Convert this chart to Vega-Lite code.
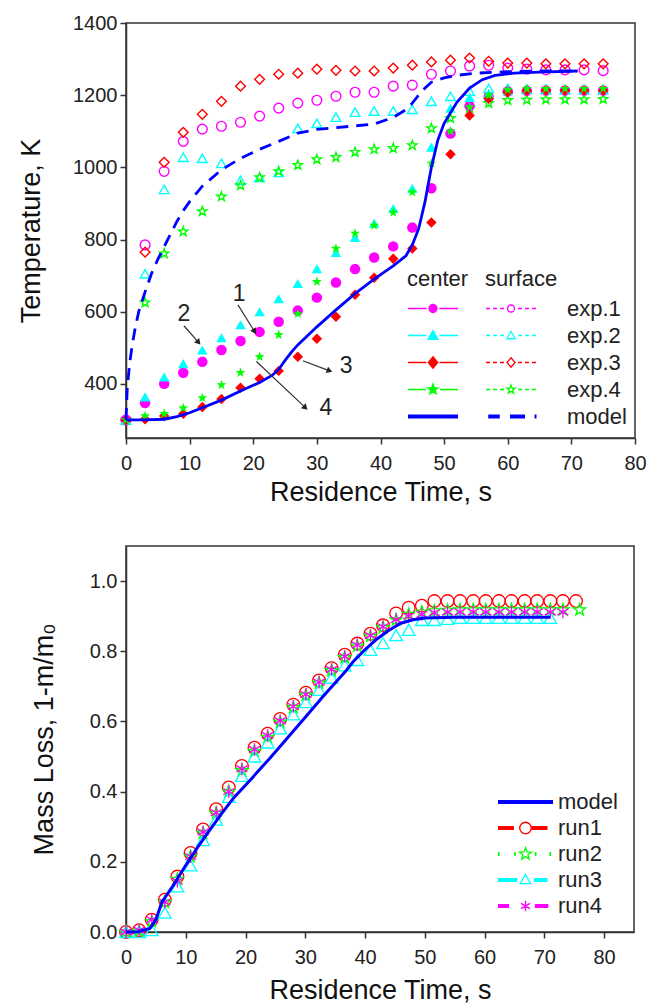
{
"$schema":"https://vega.github.io/schema/vega-lite/v6.json",
"padding":{"left":16,"top":12,"right":0,"bottom":0},
"spacing":39,
"config":{
 "font":"Liberation Sans",
 "view":{"stroke":"#333","strokeWidth":1.5},
 "axis":{"domainColor":"#333","domainWidth":1.5,"tickColor":"#333","tickWidth":1.5,"labelFont":"Liberation Sans","labelFontSize":20,"labelColor":"#222","titleFont":"Liberation Sans","titleFontSize":27,"titleFontWeight":"normal","titleColor":"#111","grid":false,"labelFlush":false,"labelOverlap":false},
 "legend":{"labelFont":"Liberation Sans","labelFontSize":22,"labelColor":"#222","titleFont":"Liberation Sans","titleFontSize":22,"titleFontWeight":"normal","titleColor":"#222","padding":0,"rowPadding":0,"symbolStrokeWidth":1.3}
},
"datasets":{
 "tdata":[
{"time":0,"kelvin":300,"series":"exp.1","loc":"center"},{"time":3,"kelvin":347,"series":"exp.1","loc":"center"},{"time":6,"kelvin":400,"series":"exp.1","loc":"center"},{"time":9,"kelvin":431,"series":"exp.1","loc":"center"},{"time":12,"kelvin":461,"series":"exp.1","loc":"center"},{"time":15,"kelvin":494,"series":"exp.1","loc":"center"},{"time":18,"kelvin":519,"series":"exp.1","loc":"center"},{"time":21,"kelvin":544,"series":"exp.1","loc":"center"},{"time":24,"kelvin":572,"series":"exp.1","loc":"center"},{"time":27,"kelvin":603,"series":"exp.1","loc":"center"},{"time":30,"kelvin":639,"series":"exp.1","loc":"center"},{"time":33,"kelvin":681,"series":"exp.1","loc":"center"},{"time":36,"kelvin":718,"series":"exp.1","loc":"center"},{"time":39,"kelvin":750,"series":"exp.1","loc":"center"},{"time":42,"kelvin":781,"series":"exp.1","loc":"center"},{"time":45,"kelvin":833,"series":"exp.1","loc":"center"},{"time":48,"kelvin":942,"series":"exp.1","loc":"center"},{"time":51,"kelvin":1094,"series":"exp.1","loc":"center"},{"time":54,"kelvin":1170,"series":"exp.1","loc":"center"},{"time":57,"kelvin":1195,"series":"exp.1","loc":"center"},{"time":60,"kelvin":1210,"series":"exp.1","loc":"center"},{"time":63,"kelvin":1212,"series":"exp.1","loc":"center"},{"time":66,"kelvin":1213,"series":"exp.1","loc":"center"},{"time":69,"kelvin":1213,"series":"exp.1","loc":"center"},{"time":72,"kelvin":1213,"series":"exp.1","loc":"center"},{"time":75,"kelvin":1213,"series":"exp.1","loc":"center"},
{"time":0,"kelvin":300,"series":"exp.2","loc":"center"},{"time":3,"kelvin":364,"series":"exp.2","loc":"center"},{"time":6,"kelvin":419,"series":"exp.2","loc":"center"},{"time":9,"kelvin":456,"series":"exp.2","loc":"center"},{"time":12,"kelvin":494,"series":"exp.2","loc":"center"},{"time":15,"kelvin":528,"series":"exp.2","loc":"center"},{"time":18,"kelvin":564,"series":"exp.2","loc":"center"},{"time":21,"kelvin":600,"series":"exp.2","loc":"center"},{"time":24,"kelvin":636,"series":"exp.2","loc":"center"},{"time":27,"kelvin":678,"series":"exp.2","loc":"center"},{"time":30,"kelvin":719,"series":"exp.2","loc":"center"},{"time":33,"kelvin":764,"series":"exp.2","loc":"center"},{"time":36,"kelvin":806,"series":"exp.2","loc":"center"},{"time":39,"kelvin":845,"series":"exp.2","loc":"center"},{"time":42,"kelvin":886,"series":"exp.2","loc":"center"},{"time":45,"kelvin":942,"series":"exp.2","loc":"center"},{"time":48,"kelvin":1056,"series":"exp.2","loc":"center"},{"time":51,"kelvin":1164,"series":"exp.2","loc":"center"},{"time":54,"kelvin":1194,"series":"exp.2","loc":"center"},{"time":57,"kelvin":1205,"series":"exp.2","loc":"center"},{"time":60,"kelvin":1212,"series":"exp.2","loc":"center"},{"time":63,"kelvin":1215,"series":"exp.2","loc":"center"},{"time":66,"kelvin":1215,"series":"exp.2","loc":"center"},{"time":69,"kelvin":1215,"series":"exp.2","loc":"center"},{"time":72,"kelvin":1215,"series":"exp.2","loc":"center"},{"time":75,"kelvin":1215,"series":"exp.2","loc":"center"},
{"time":0,"kelvin":300,"series":"exp.3","loc":"center"},{"time":3,"kelvin":302,"series":"exp.3","loc":"center"},{"time":6,"kelvin":311,"series":"exp.3","loc":"center"},{"time":9,"kelvin":317,"series":"exp.3","loc":"center"},{"time":12,"kelvin":336,"series":"exp.3","loc":"center"},{"time":15,"kelvin":358,"series":"exp.3","loc":"center"},{"time":18,"kelvin":389,"series":"exp.3","loc":"center"},{"time":21,"kelvin":414,"series":"exp.3","loc":"center"},{"time":24,"kelvin":436,"series":"exp.3","loc":"center"},{"time":27,"kelvin":475,"series":"exp.3","loc":"center"},{"time":30,"kelvin":525,"series":"exp.3","loc":"center"},{"time":33,"kelvin":586,"series":"exp.3","loc":"center"},{"time":36,"kelvin":647,"series":"exp.3","loc":"center"},{"time":39,"kelvin":694,"series":"exp.3","loc":"center"},{"time":42,"kelvin":747,"series":"exp.3","loc":"center"},{"time":45,"kelvin":775,"series":"exp.3","loc":"center"},{"time":48,"kelvin":847,"series":"exp.3","loc":"center"},{"time":51,"kelvin":1036,"series":"exp.3","loc":"center"},{"time":54,"kelvin":1144,"series":"exp.3","loc":"center"},{"time":57,"kelvin":1190,"series":"exp.3","loc":"center"},{"time":60,"kelvin":1208,"series":"exp.3","loc":"center"},{"time":63,"kelvin":1212,"series":"exp.3","loc":"center"},{"time":66,"kelvin":1213,"series":"exp.3","loc":"center"},{"time":69,"kelvin":1213,"series":"exp.3","loc":"center"},{"time":72,"kelvin":1213,"series":"exp.3","loc":"center"},{"time":75,"kelvin":1213,"series":"exp.3","loc":"center"},
{"time":0,"kelvin":300,"series":"exp.4","loc":"center"},{"time":3,"kelvin":311,"series":"exp.4","loc":"center"},{"time":6,"kelvin":317,"series":"exp.4","loc":"center"},{"time":9,"kelvin":333,"series":"exp.4","loc":"center"},{"time":12,"kelvin":361,"series":"exp.4","loc":"center"},{"time":15,"kelvin":397,"series":"exp.4","loc":"center"},{"time":18,"kelvin":431,"series":"exp.4","loc":"center"},{"time":21,"kelvin":475,"series":"exp.4","loc":"center"},{"time":24,"kelvin":536,"series":"exp.4","loc":"center"},{"time":27,"kelvin":594,"series":"exp.4","loc":"center"},{"time":30,"kelvin":683,"series":"exp.4","loc":"center"},{"time":33,"kelvin":775,"series":"exp.4","loc":"center"},{"time":36,"kelvin":817,"series":"exp.4","loc":"center"},{"time":39,"kelvin":839,"series":"exp.4","loc":"center"},{"time":42,"kelvin":875,"series":"exp.4","loc":"center"},{"time":45,"kelvin":931,"series":"exp.4","loc":"center"},{"time":48,"kelvin":1011,"series":"exp.4","loc":"center"},{"time":51,"kelvin":1100,"series":"exp.4","loc":"center"},{"time":54,"kelvin":1167,"series":"exp.4","loc":"center"},{"time":57,"kelvin":1200,"series":"exp.4","loc":"center"},{"time":60,"kelvin":1215,"series":"exp.4","loc":"center"},{"time":63,"kelvin":1218,"series":"exp.4","loc":"center"},{"time":66,"kelvin":1218,"series":"exp.4","loc":"center"},{"time":69,"kelvin":1218,"series":"exp.4","loc":"center"},{"time":72,"kelvin":1218,"series":"exp.4","loc":"center"},{"time":75,"kelvin":1218,"series":"exp.4","loc":"center"},
{"time":0,"kelvin":300,"series":"exp.1","loc":"surface"},{"time":3,"kelvin":785,"series":"exp.1","loc":"surface"},{"time":6,"kelvin":989,"series":"exp.1","loc":"surface"},{"time":9,"kelvin":1072,"series":"exp.1","loc":"surface"},{"time":12,"kelvin":1106,"series":"exp.1","loc":"surface"},{"time":15,"kelvin":1114,"series":"exp.1","loc":"surface"},{"time":18,"kelvin":1125,"series":"exp.1","loc":"surface"},{"time":21,"kelvin":1142,"series":"exp.1","loc":"surface"},{"time":24,"kelvin":1164,"series":"exp.1","loc":"surface"},{"time":27,"kelvin":1178,"series":"exp.1","loc":"surface"},{"time":30,"kelvin":1186,"series":"exp.1","loc":"surface"},{"time":33,"kelvin":1197,"series":"exp.1","loc":"surface"},{"time":36,"kelvin":1208,"series":"exp.1","loc":"surface"},{"time":39,"kelvin":1208,"series":"exp.1","loc":"surface"},{"time":42,"kelvin":1225,"series":"exp.1","loc":"surface"},{"time":45,"kelvin":1228,"series":"exp.1","loc":"surface"},{"time":48,"kelvin":1258,"series":"exp.1","loc":"surface"},{"time":51,"kelvin":1267,"series":"exp.1","loc":"surface"},{"time":54,"kelvin":1281,"series":"exp.1","loc":"surface"},{"time":57,"kelvin":1283,"series":"exp.1","loc":"surface"},{"time":60,"kelvin":1275,"series":"exp.1","loc":"surface"},{"time":63,"kelvin":1272,"series":"exp.1","loc":"surface"},{"time":66,"kelvin":1270,"series":"exp.1","loc":"surface"},{"time":69,"kelvin":1270,"series":"exp.1","loc":"surface"},{"time":72,"kelvin":1270,"series":"exp.1","loc":"surface"},{"time":75,"kelvin":1268,"series":"exp.1","loc":"surface"},
{"time":0,"kelvin":300,"series":"exp.2","loc":"surface"},{"time":3,"kelvin":705,"series":"exp.2","loc":"surface"},{"time":6,"kelvin":939,"series":"exp.2","loc":"surface"},{"time":9,"kelvin":1028,"series":"exp.2","loc":"surface"},{"time":12,"kelvin":1025,"series":"exp.2","loc":"surface"},{"time":15,"kelvin":1011,"series":"exp.2","loc":"surface"},{"time":18,"kelvin":964,"series":"exp.2","loc":"surface"},{"time":21,"kelvin":972,"series":"exp.2","loc":"surface"},{"time":24,"kelvin":986,"series":"exp.2","loc":"surface"},{"time":27,"kelvin":1108,"series":"exp.2","loc":"surface"},{"time":30,"kelvin":1122,"series":"exp.2","loc":"surface"},{"time":33,"kelvin":1139,"series":"exp.2","loc":"surface"},{"time":36,"kelvin":1153,"series":"exp.2","loc":"surface"},{"time":39,"kelvin":1156,"series":"exp.2","loc":"surface"},{"time":42,"kelvin":1156,"series":"exp.2","loc":"surface"},{"time":45,"kelvin":1161,"series":"exp.2","loc":"surface"},{"time":48,"kelvin":1183,"series":"exp.2","loc":"surface"},{"time":51,"kelvin":1197,"series":"exp.2","loc":"surface"},{"time":54,"kelvin":1211,"series":"exp.2","loc":"surface"},{"time":57,"kelvin":1219,"series":"exp.2","loc":"surface"},{"time":60,"kelvin":1219,"series":"exp.2","loc":"surface"},{"time":63,"kelvin":1217,"series":"exp.2","loc":"surface"},{"time":66,"kelvin":1216,"series":"exp.2","loc":"surface"},{"time":69,"kelvin":1215,"series":"exp.2","loc":"surface"},{"time":72,"kelvin":1215,"series":"exp.2","loc":"surface"},{"time":75,"kelvin":1215,"series":"exp.2","loc":"surface"},
{"time":0,"kelvin":300,"series":"exp.3","loc":"surface"},{"time":3,"kelvin":765,"series":"exp.3","loc":"surface"},{"time":6,"kelvin":1014,"series":"exp.3","loc":"surface"},{"time":9,"kelvin":1097,"series":"exp.3","loc":"surface"},{"time":12,"kelvin":1147,"series":"exp.3","loc":"surface"},{"time":15,"kelvin":1183,"series":"exp.3","loc":"surface"},{"time":18,"kelvin":1225,"series":"exp.3","loc":"surface"},{"time":21,"kelvin":1244,"series":"exp.3","loc":"surface"},{"time":24,"kelvin":1258,"series":"exp.3","loc":"surface"},{"time":27,"kelvin":1261,"series":"exp.3","loc":"surface"},{"time":30,"kelvin":1272,"series":"exp.3","loc":"surface"},{"time":33,"kelvin":1269,"series":"exp.3","loc":"surface"},{"time":36,"kelvin":1267,"series":"exp.3","loc":"surface"},{"time":39,"kelvin":1267,"series":"exp.3","loc":"surface"},{"time":42,"kelvin":1275,"series":"exp.3","loc":"surface"},{"time":45,"kelvin":1283,"series":"exp.3","loc":"surface"},{"time":48,"kelvin":1292,"series":"exp.3","loc":"surface"},{"time":51,"kelvin":1297,"series":"exp.3","loc":"surface"},{"time":54,"kelvin":1303,"series":"exp.3","loc":"surface"},{"time":57,"kelvin":1294,"series":"exp.3","loc":"surface"},{"time":60,"kelvin":1289,"series":"exp.3","loc":"surface"},{"time":63,"kelvin":1289,"series":"exp.3","loc":"surface"},{"time":66,"kelvin":1287,"series":"exp.3","loc":"surface"},{"time":69,"kelvin":1287,"series":"exp.3","loc":"surface"},{"time":72,"kelvin":1287,"series":"exp.3","loc":"surface"},{"time":75,"kelvin":1287,"series":"exp.3","loc":"surface"},
{"time":0,"kelvin":300,"series":"exp.4","loc":"surface"},{"time":3,"kelvin":625,"series":"exp.4","loc":"surface"},{"time":6,"kelvin":761,"series":"exp.4","loc":"surface"},{"time":9,"kelvin":822,"series":"exp.4","loc":"surface"},{"time":12,"kelvin":878,"series":"exp.4","loc":"surface"},{"time":15,"kelvin":919,"series":"exp.4","loc":"surface"},{"time":18,"kelvin":950,"series":"exp.4","loc":"surface"},{"time":21,"kelvin":972,"series":"exp.4","loc":"surface"},{"time":24,"kelvin":989,"series":"exp.4","loc":"surface"},{"time":27,"kelvin":1006,"series":"exp.4","loc":"surface"},{"time":30,"kelvin":1022,"series":"exp.4","loc":"surface"},{"time":33,"kelvin":1028,"series":"exp.4","loc":"surface"},{"time":36,"kelvin":1042,"series":"exp.4","loc":"surface"},{"time":39,"kelvin":1050,"series":"exp.4","loc":"surface"},{"time":42,"kelvin":1053,"series":"exp.4","loc":"surface"},{"time":45,"kelvin":1061,"series":"exp.4","loc":"surface"},{"time":48,"kelvin":1108,"series":"exp.4","loc":"surface"},{"time":51,"kelvin":1136,"series":"exp.4","loc":"surface"},{"time":54,"kelvin":1164,"series":"exp.4","loc":"surface"},{"time":57,"kelvin":1178,"series":"exp.4","loc":"surface"},{"time":60,"kelvin":1186,"series":"exp.4","loc":"surface"},{"time":63,"kelvin":1187,"series":"exp.4","loc":"surface"},{"time":66,"kelvin":1188,"series":"exp.4","loc":"surface"},{"time":69,"kelvin":1188,"series":"exp.4","loc":"surface"},{"time":72,"kelvin":1188,"series":"exp.4","loc":"surface"},{"time":75,"kelvin":1189,"series":"exp.4","loc":"surface"},
{"time":0,"kelvin":300,"series":"model","loc":"center"},{"time":3,"kelvin":300,"series":"model","loc":"center"},{"time":6,"kelvin":302,"series":"model","loc":"center"},{"time":8,"kelvin":309,"series":"model","loc":"center"},{"time":10,"kelvin":320,"series":"model","loc":"center"},{"time":12,"kelvin":334,"series":"model","loc":"center"},{"time":15,"kelvin":355,"series":"model","loc":"center"},{"time":18,"kelvin":380,"series":"model","loc":"center"},{"time":21,"kelvin":404,"series":"model","loc":"center"},{"time":23,"kelvin":424,"series":"model","loc":"center"},{"time":24,"kelvin":440,"series":"model","loc":"center"},{"time":25,"kelvin":465,"series":"model","loc":"center"},{"time":26,"kelvin":488,"series":"model","loc":"center"},{"time":27,"kelvin":508,"series":"model","loc":"center"},{"time":30,"kelvin":558,"series":"model","loc":"center"},{"time":33,"kelvin":605,"series":"model","loc":"center"},{"time":36,"kelvin":650,"series":"model","loc":"center"},{"time":39,"kelvin":690,"series":"model","loc":"center"},{"time":42,"kelvin":727,"series":"model","loc":"center"},{"time":44,"kelvin":755,"series":"model","loc":"center"},{"time":45,"kelvin":785,"series":"model","loc":"center"},{"time":46,"kelvin":830,"series":"model","loc":"center"},{"time":47,"kelvin":905,"series":"model","loc":"center"},{"time":48,"kelvin":1000,"series":"model","loc":"center"},{"time":49,"kelvin":1075,"series":"model","loc":"center"},{"time":50,"kelvin":1122,"series":"model","loc":"center"},{"time":52,"kelvin":1180,"series":"model","loc":"center"},{"time":54,"kelvin":1220,"series":"model","loc":"center"},{"time":56,"kelvin":1243,"series":"model","loc":"center"},{"time":58,"kelvin":1255,"series":"model","loc":"center"},{"time":61,"kelvin":1261,"series":"model","loc":"center"},{"time":65,"kelvin":1264,"series":"model","loc":"center"},{"time":71,"kelvin":1267,"series":"model","loc":"center"},
{"time":0,"kelvin":300,"series":"model","loc":"surface"},{"time":0.2,"kelvin":390,"series":"model","loc":"surface"},{"time":0.6,"kelvin":460,"series":"model","loc":"surface"},{"time":1,"kelvin":510,"series":"model","loc":"surface"},{"time":1.5,"kelvin":560,"series":"model","loc":"surface"},{"time":2,"kelvin":600,"series":"model","loc":"surface"},{"time":3,"kelvin":655,"series":"model","loc":"surface"},{"time":4,"kelvin":705,"series":"model","loc":"surface"},{"time":5,"kelvin":745,"series":"model","loc":"surface"},{"time":6,"kelvin":780,"series":"model","loc":"surface"},{"time":7,"kelvin":815,"series":"model","loc":"surface"},{"time":8,"kelvin":850,"series":"model","loc":"surface"},{"time":9,"kelvin":880,"series":"model","loc":"surface"},{"time":10,"kelvin":905,"series":"model","loc":"surface"},{"time":12,"kelvin":948,"series":"model","loc":"surface"},{"time":15,"kelvin":993,"series":"model","loc":"surface"},{"time":18,"kelvin":1025,"series":"model","loc":"surface"},{"time":21,"kelvin":1050,"series":"model","loc":"surface"},{"time":24,"kelvin":1072,"series":"model","loc":"surface"},{"time":27,"kelvin":1095,"series":"model","loc":"surface"},{"time":30,"kelvin":1105,"series":"model","loc":"surface"},{"time":33,"kelvin":1110,"series":"model","loc":"surface"},{"time":36,"kelvin":1115,"series":"model","loc":"surface"},{"time":39,"kelvin":1120,"series":"model","loc":"surface"},{"time":42,"kelvin":1138,"series":"model","loc":"surface"},{"time":44,"kelvin":1160,"series":"model","loc":"surface"},{"time":45,"kelvin":1178,"series":"model","loc":"surface"},{"time":46,"kelvin":1200,"series":"model","loc":"surface"},{"time":47,"kelvin":1220,"series":"model","loc":"surface"},{"time":48,"kelvin":1236,"series":"model","loc":"surface"},{"time":50,"kelvin":1248,"series":"model","loc":"surface"},{"time":52,"kelvin":1255,"series":"model","loc":"surface"},{"time":55,"kelvin":1261,"series":"model","loc":"surface"},{"time":60,"kelvin":1265,"series":"model","loc":"surface"},{"time":65,"kelvin":1267,"series":"model","loc":"surface"},{"time":70,"kelvin":1267,"series":"model","loc":"surface"}
 ],
 "notes":[
{"n":1,"label":"1","tx":17.8,"tT":648,"ax":17.6,"aT":619,"bx":20.2,"bT":545},
{"n":2,"label":"2","tx":9.1,"tT":594,"ax":9.1,"aT":561,"bx":11.4,"bT":515},
{"n":3,"label":"3","tx":34.6,"tT":450,"ax":27.8,"aT":464,"bx":32.0,"bT":436},
{"n":4,"label":"4","tx":31.4,"tT":333,"ax":20.5,"aT":462,"bx":28.2,"bT":334}
 ],
 "mass":[
{"time":0,"ml":0,"series":"run1"},{"time":2.2,"ml":0.005,"series":"run1"},{"time":4.3,"ml":0.035,"series":"run1"},{"time":6.5,"ml":0.092,"series":"run1"},{"time":8.6,"ml":0.158,"series":"run1"},{"time":10.8,"ml":0.225,"series":"run1"},{"time":12.9,"ml":0.292,"series":"run1"},{"time":15.1,"ml":0.35,"series":"run1"},{"time":17.2,"ml":0.412,"series":"run1"},{"time":19.4,"ml":0.473,"series":"run1"},{"time":21.5,"ml":0.525,"series":"run1"},{"time":23.7,"ml":0.565,"series":"run1"},{"time":25.8,"ml":0.607,"series":"run1"},{"time":28.0,"ml":0.648,"series":"run1"},{"time":30.1,"ml":0.682,"series":"run1"},{"time":32.3,"ml":0.717,"series":"run1"},{"time":34.4,"ml":0.752,"series":"run1"},{"time":36.6,"ml":0.79,"series":"run1"},{"time":38.7,"ml":0.822,"series":"run1"},{"time":40.9,"ml":0.85,"series":"run1"},{"time":43.0,"ml":0.874,"series":"run1"},{"time":45.2,"ml":0.908,"series":"run1"},{"time":47.3,"ml":0.924,"series":"run1"},{"time":49.5,"ml":0.93,"series":"run1"},{"time":51.6,"ml":0.943,"series":"run1"},{"time":53.8,"ml":0.943,"series":"run1"},{"time":55.9,"ml":0.943,"series":"run1"},{"time":58.1,"ml":0.943,"series":"run1"},{"time":60.2,"ml":0.943,"series":"run1"},{"time":62.4,"ml":0.943,"series":"run1"},{"time":64.5,"ml":0.943,"series":"run1"},{"time":66.7,"ml":0.943,"series":"run1"},{"time":68.8,"ml":0.943,"series":"run1"},{"time":71.0,"ml":0.943,"series":"run1"},{"time":73.1,"ml":0.943,"series":"run1"},{"time":75.3,"ml":0.943,"series":"run1"},
{"time":0,"ml":0,"series":"run2"},{"time":2.2,"ml":0.003,"series":"run2"},{"time":4.3,"ml":0.03,"series":"run2"},{"time":6.5,"ml":0.085,"series":"run2"},{"time":8.6,"ml":0.15,"series":"run2"},{"time":10.8,"ml":0.215,"series":"run2"},{"time":12.9,"ml":0.282,"series":"run2"},{"time":15.1,"ml":0.338,"series":"run2"},{"time":17.2,"ml":0.4,"series":"run2"},{"time":19.4,"ml":0.46,"series":"run2"},{"time":21.5,"ml":0.515,"series":"run2"},{"time":23.7,"ml":0.555,"series":"run2"},{"time":25.8,"ml":0.598,"series":"run2"},{"time":28.0,"ml":0.64,"series":"run2"},{"time":30.1,"ml":0.675,"series":"run2"},{"time":32.3,"ml":0.71,"series":"run2"},{"time":34.4,"ml":0.745,"series":"run2"},{"time":36.6,"ml":0.782,"series":"run2"},{"time":38.7,"ml":0.815,"series":"run2"},{"time":40.9,"ml":0.843,"series":"run2"},{"time":43.0,"ml":0.868,"series":"run2"},{"time":45.2,"ml":0.89,"series":"run2"},{"time":47.3,"ml":0.905,"series":"run2"},{"time":49.5,"ml":0.912,"series":"run2"},{"time":51.6,"ml":0.915,"series":"run2"},{"time":53.8,"ml":0.917,"series":"run2"},{"time":55.9,"ml":0.918,"series":"run2"},{"time":58.1,"ml":0.918,"series":"run2"},{"time":60.2,"ml":0.918,"series":"run2"},{"time":62.4,"ml":0.918,"series":"run2"},{"time":64.5,"ml":0.918,"series":"run2"},{"time":66.7,"ml":0.918,"series":"run2"},{"time":68.8,"ml":0.918,"series":"run2"},{"time":71.0,"ml":0.918,"series":"run2"},{"time":73.1,"ml":0.918,"series":"run2"},{"time":75.9,"ml":0.918,"series":"run2"},
{"time":0,"ml":0,"series":"run3"},{"time":2.2,"ml":0,"series":"run3"},{"time":4.3,"ml":0.005,"series":"run3"},{"time":6.5,"ml":0.055,"series":"run3"},{"time":8.6,"ml":0.13,"series":"run3"},{"time":10.8,"ml":0.19,"series":"run3"},{"time":12.9,"ml":0.262,"series":"run3"},{"time":15.1,"ml":0.32,"series":"run3"},{"time":17.2,"ml":0.385,"series":"run3"},{"time":19.4,"ml":0.445,"series":"run3"},{"time":21.5,"ml":0.5,"series":"run3"},{"time":23.7,"ml":0.54,"series":"run3"},{"time":25.8,"ml":0.58,"series":"run3"},{"time":28.0,"ml":0.62,"series":"run3"},{"time":30.1,"ml":0.655,"series":"run3"},{"time":32.3,"ml":0.69,"series":"run3"},{"time":34.4,"ml":0.725,"series":"run3"},{"time":36.6,"ml":0.76,"series":"run3"},{"time":38.7,"ml":0.775,"series":"run3"},{"time":40.9,"ml":0.804,"series":"run3"},{"time":43.0,"ml":0.823,"series":"run3"},{"time":45.2,"ml":0.846,"series":"run3"},{"time":47.3,"ml":0.861,"series":"run3"},{"time":49.5,"ml":0.889,"series":"run3"},{"time":51.6,"ml":0.889,"series":"run3"},{"time":53.8,"ml":0.892,"series":"run3"},{"time":55.9,"ml":0.895,"series":"run3"},{"time":58.1,"ml":0.895,"series":"run3"},{"time":60.2,"ml":0.895,"series":"run3"},{"time":62.4,"ml":0.895,"series":"run3"},{"time":64.5,"ml":0.895,"series":"run3"},{"time":66.7,"ml":0.895,"series":"run3"},{"time":68.8,"ml":0.895,"series":"run3"},{"time":71.0,"ml":0.895,"series":"run3"},
{"time":0,"ml":0,"series":"run4"},{"time":2.2,"ml":0.005,"series":"run4"},{"time":4.3,"ml":0.035,"series":"run4"},{"time":6.5,"ml":0.085,"series":"run4"},{"time":8.6,"ml":0.145,"series":"run4"},{"time":10.8,"ml":0.215,"series":"run4"},{"time":12.9,"ml":0.285,"series":"run4"},{"time":15.1,"ml":0.34,"series":"run4"},{"time":17.2,"ml":0.4,"series":"run4"},{"time":19.4,"ml":0.465,"series":"run4"},{"time":21.5,"ml":0.52,"series":"run4"},{"time":23.7,"ml":0.56,"series":"run4"},{"time":25.8,"ml":0.602,"series":"run4"},{"time":28.0,"ml":0.643,"series":"run4"},{"time":30.1,"ml":0.677,"series":"run4"},{"time":32.3,"ml":0.712,"series":"run4"},{"time":34.4,"ml":0.748,"series":"run4"},{"time":36.6,"ml":0.785,"series":"run4"},{"time":38.7,"ml":0.818,"series":"run4"},{"time":40.9,"ml":0.845,"series":"run4"},{"time":43.0,"ml":0.87,"series":"run4"},{"time":45.2,"ml":0.89,"series":"run4"},{"time":47.3,"ml":0.9,"series":"run4"},{"time":49.5,"ml":0.905,"series":"run4"},{"time":51.6,"ml":0.91,"series":"run4"},{"time":53.8,"ml":0.912,"series":"run4"},{"time":55.9,"ml":0.912,"series":"run4"},{"time":58.1,"ml":0.912,"series":"run4"},{"time":60.2,"ml":0.912,"series":"run4"},{"time":62.4,"ml":0.912,"series":"run4"},{"time":64.5,"ml":0.912,"series":"run4"},{"time":66.7,"ml":0.912,"series":"run4"},{"time":68.8,"ml":0.912,"series":"run4"},{"time":71.0,"ml":0.912,"series":"run4"},{"time":73.1,"ml":0.912,"series":"run4"},
{"time":0,"ml":0,"series":"model"},{"time":2,"ml":0.001,"series":"model"},{"time":4,"ml":0.01,"series":"model"},{"time":5,"ml":0.035,"series":"model"},{"time":6,"ml":0.085,"series":"model"},{"time":8,"ml":0.135,"series":"model"},{"time":10,"ml":0.19,"series":"model"},{"time":12,"ml":0.242,"series":"model"},{"time":14,"ml":0.29,"series":"model"},{"time":16,"ml":0.337,"series":"model"},{"time":18,"ml":0.382,"series":"model"},{"time":21,"ml":0.437,"series":"model"},{"time":24,"ml":0.494,"series":"model"},{"time":27,"ml":0.553,"series":"model"},{"time":30,"ml":0.612,"series":"model"},{"time":33,"ml":0.672,"series":"model"},{"time":36.7,"ml":0.742,"series":"model"},{"time":38,"ml":0.77,"series":"model"},{"time":40,"ml":0.805,"series":"model"},{"time":42,"ml":0.835,"series":"model"},{"time":44,"ml":0.86,"series":"model"},{"time":46,"ml":0.88,"series":"model"},{"time":48,"ml":0.89,"series":"model"},{"time":50,"ml":0.895,"series":"model"},{"time":55,"ml":0.897,"series":"model"},{"time":60,"ml":0.897,"series":"model"},{"time":65,"ml":0.897,"series":"model"},{"time":71,"ml":0.897,"series":"model"}
 ]
},
"vconcat":[
{
 "width":509,"height":415,
 "resolve":{"scale":{"color":"independent","shape":"independent","stroke":"independent"}},
 "layer":[
  {"data":{"name":"tdata"},"transform":[{"filter":"datum.loc === 'surface' && datum.series !== 'model'"}],
   "mark":{"type":"point","filled":false,"strokeWidth":1.4,"opacity":1,"size":95},
   "encoding":{
    "x":{"field":"time","type":"quantitative","scale":{"domain":[0,80],"nice":false},
      "axis":{"title":"Residence Time, s","values":[0,5,10,15,20,25,30,35,40,45,50,55,60,65,70,75,80],"labelExpr":"datum.value % 10 === 0 ? datum.label : ''","tickSize":6,"labelPadding":9,"titlePadding":6}},
    "y":{"field":"kelvin","type":"quantitative","scale":{"domain":[250,1400],"nice":false,"zero":false},
      "axis":{"title":"Temperature, K","values":[400,600,800,1000,1200,1400],"format":".0f","tickSize":6,"labelPadding":3,"titlePadding":27}},
    "shape":{"field":"series","type":"nominal","scale":{"domain":["exp.1","exp.2","exp.3","exp.4"],"range":["circle","triangle-up","diamond","M0,-1L0.235,-0.324L0.951,-0.309L0.38,0.124L0.588,0.809L0,0.4L-0.588,0.809L-0.38,0.124L-0.951,-0.309L-0.235,-0.324Z"]},"legend":null},
    "color":{"field":"series","type":"nominal","scale":{"domain":["exp.1","exp.2","exp.3","exp.4"],"range":["#FF00FF","#00FFFF","#FF0000","#00FF00"]},"legend":null}
   }},
  {"data":{"name":"tdata"},"transform":[{"filter":"datum.loc === 'center' && datum.series !== 'model'"}],
   "mark":{"type":"point","filled":true,"opacity":1,"size":110},
   "encoding":{
    "x":{"field":"time","type":"quantitative"},
    "y":{"field":"kelvin","type":"quantitative"},
    "shape":{"field":"series","type":"nominal","scale":{"domain":["exp.1","exp.2","exp.3","exp.4"],"range":["circle","triangle-up","diamond","M0,-1L0.235,-0.324L0.951,-0.309L0.38,0.124L0.588,0.809L0,0.4L-0.588,0.809L-0.38,0.124L-0.951,-0.309L-0.235,-0.324Z"]},"legend":null},
    "color":{"field":"series","type":"nominal","scale":{"domain":["exp.1","exp.2","exp.3","exp.4"],"range":["#FF00FF","#00FFFF","#FF0000","#00FF00"]},"legend":null}
   }},
  {"data":{"name":"tdata"},"transform":[{"filter":"datum.loc === 'center' && datum.series === 'model'"}],
   "mark":{"type":"line","color":"#0000FF","strokeWidth":2.8},
   "encoding":{"x":{"field":"time","type":"quantitative"},"y":{"field":"kelvin","type":"quantitative"}}},
  {"data":{"name":"tdata"},"transform":[{"filter":"datum.loc === 'surface' && datum.series === 'model'"}],
   "mark":{"type":"line","color":"#0000FF","strokeWidth":2.8,"strokeDash":[12,8]},
   "encoding":{"x":{"field":"time","type":"quantitative"},"y":{"field":"kelvin","type":"quantitative"}}},
  {"data":{"name":"notes"},
   "mark":{"type":"rule","color":"#333","strokeWidth":1.2},
   "encoding":{"x":{"field":"ax","type":"quantitative"},"y":{"field":"aT","type":"quantitative"},"x2":{"field":"bx"},"y2":{"field":"bT"}}},
  {"data":{"name":"notes"},"transform":[{"filter":"datum.n === 1"}],
   "mark":{"type":"point","shape":"triangle-up","filled":true,"color":"#222","size":45,"opacity":1,"angle":148},
   "encoding":{"x":{"field":"bx","type":"quantitative"},"y":{"field":"bT","type":"quantitative"}}},
  {"data":{"name":"notes"},"transform":[{"filter":"datum.n === 2"}],
   "mark":{"type":"point","shape":"triangle-up","filled":true,"color":"#222","size":45,"opacity":1,"angle":139},
   "encoding":{"x":{"field":"bx","type":"quantitative"},"y":{"field":"bT","type":"quantitative"}}},
  {"data":{"name":"notes"},"transform":[{"filter":"datum.n === 3"}],
   "mark":{"type":"point","shape":"triangle-up","filled":true,"color":"#222","size":45,"opacity":1,"angle":110},
   "encoding":{"x":{"field":"bx","type":"quantitative"},"y":{"field":"bT","type":"quantitative"}}},
  {"data":{"name":"notes"},"transform":[{"filter":"datum.n === 4"}],
   "mark":{"type":"point","shape":"triangle-up","filled":true,"color":"#222","size":45,"opacity":1,"angle":133},
   "encoding":{"x":{"field":"bx","type":"quantitative"},"y":{"field":"bT","type":"quantitative"}}},
  {"data":{"name":"notes"},
   "mark":{"type":"text","fontSize":23,"color":"#222"},
   "encoding":{"x":{"field":"tx","type":"quantitative"},"y":{"field":"tT","type":"quantitative"},"text":{"field":"label"}}},
  {"data":{"name":"tdata"},"transform":[{"filter":"datum.loc === 'center'"}],
   "mark":{"type":"point","filled":false,"opacity":0,"size":2500,"strokeWidth":1.3},
   "encoding":{
    "x":{"field":"time","type":"quantitative"},
    "y":{"field":"kelvin","type":"quantitative"},
    "shape":{"field":"series","type":"nominal","scale":{"domain":["exp.1","exp.2","exp.3","exp.4","model"],"range":[
      "M-1,0H-0.25M0.25,0H1M-0.16,0A0.16,0.16 0 1,0 0.16,0A0.16,0.16 0 1,0 -0.16,0ZM-0.11,0A0.11,0.11 0 1,0 0.11,0A0.11,0.11 0 1,0 -0.11,0ZM-0.06,0A0.06,0.06 0 1,0 0.06,0A0.06,0.06 0 1,0 -0.06,0ZM-0.02,0A0.02,0.02 0 1,0 0.02,0A0.02,0.02 0 1,0 -0.02,0Z",
      "M-1,0H-0.26M0.26,0H1M0,-0.2L0.2,0.15L-0.2,0.15ZM0,-0.13L0.14,0.115L-0.14,0.115ZM0,-0.06L0.08,0.08L-0.08,0.08ZM0,0.01L0.02,0.045L-0.02,0.045Z",
      "M-1,0H-0.26M0.26,0H1M0,-0.23L0.19,0L0,0.23L-0.19,0ZM0,-0.16L0.133,0L0,0.16L-0.133,0ZM0,-0.092L0.076,0L0,0.092L-0.076,0ZM0,-0.03L0.025,0L0,0.03L-0.025,0Z",
      "M-1,0H-0.28M0.28,0H1M0,-0.22L0.053,-0.073L0.209,-0.068L0.086,0.028L0.129,0.178L0,0.09L-0.129,0.178L-0.086,0.028L-0.209,-0.068L-0.053,-0.073ZM0,-0.132L0.032,-0.044L0.125,-0.041L0.052,0.017L0.077,0.107L0,0.054L-0.077,0.107L-0.052,0.017L-0.125,-0.041L-0.032,-0.044ZM0,-0.055L0.013,-0.018L0.052,-0.017L0.022,0.007L0.032,0.045L0,0.023L-0.032,0.045L-0.022,0.007L-0.052,-0.017L-0.013,-0.018Z",
      "M-1,0H1M-1,-0.05H1M-1,0.05H1"]},
      "legend":{"title":"center","orient":"none","legendX":281,"legendY":246,"labelOpacity":0,"clipHeight":27,"symbolSize":2500,"titlePadding":4,"symbolStrokeWidth":1.3}},
    "stroke":{"field":"series","type":"nominal","scale":{"domain":["exp.1","exp.2","exp.3","exp.4","model"],"range":["#FF00FF","#00FFFF","#FF0000","#00FF00","#0000FF"]},
      "legend":{"title":"center","orient":"none","legendX":281,"legendY":246,"labelOpacity":0,"clipHeight":27,"symbolSize":2500,"titlePadding":4,"symbolStrokeWidth":1.3}}
   }},
  {"data":{"name":"tdata"},"transform":[{"filter":"datum.loc === 'surface'"}],
   "mark":{"type":"point","filled":false,"opacity":0,"size":2500,"strokeWidth":1.3},
   "encoding":{
    "x":{"field":"time","type":"quantitative"},
    "y":{"field":"kelvin","type":"quantitative"},
    "shape":{"field":"series","type":"nominal","scale":{"domain":["exp.1","exp.2","exp.3","exp.4","model"],"range":[
      "M-1,0H-0.84M-0.72,0H-0.56M-0.44,0H-0.28M0.28,0H0.44M0.56,0H0.72M0.84,0H1M-0.14,0A0.14,0.14 0 1,0 0.14,0A0.14,0.14 0 1,0 -0.14,0Z",
      "M-1,0H-0.84M-0.72,0H-0.56M-0.44,0H-0.28M0.28,0H0.44M0.56,0H0.72M0.84,0H1M0,-0.17L0.17,0.13L-0.17,0.13Z",
      "M-1,0H-0.84M-0.72,0H-0.56M-0.44,0H-0.28M0.28,0H0.44M0.56,0H0.72M0.84,0H1M0,-0.19L0.16,0L0,0.19L-0.16,0Z",
      "M-1,0H-0.84M-0.72,0H-0.56M-0.44,0H-0.28M0.28,0H0.44M0.56,0H0.72M0.84,0H1M0,-0.18L0.043,-0.06L0.171,-0.056L0.07,0.023L0.106,0.146L0,0.074L-0.106,0.146L-0.07,0.023L-0.171,-0.056L-0.043,-0.06Z",
      "M-0.91,0H-0.45M-0.91,-0.05H-0.45M-0.91,0.05H-0.45M-0.04,0H0.56M-0.04,-0.05H0.56M-0.04,0.05H0.56M0.94,0H1.02M0.94,-0.05H1.02M0.94,0.05H1.02"]},
      "legend":{"title":"surface","orient":"none","legendX":359,"legendY":246,"clipHeight":27,"symbolSize":2500,"titlePadding":4,"labelOffset":30,"symbolStrokeWidth":1.3}},
    "stroke":{"field":"series","type":"nominal","scale":{"domain":["exp.1","exp.2","exp.3","exp.4","model"],"range":["#FF00FF","#00FFFF","#FF0000","#00FF00","#0000FF"]},
      "legend":{"title":"surface","orient":"none","legendX":359,"legendY":246,"clipHeight":27,"symbolSize":2500,"titlePadding":4,"labelOffset":30,"symbolStrokeWidth":1.3}}
   }}
 ]
},
{
 "width":508,"height":386,
 "resolve":{"scale":{"color":"independent","shape":"independent","stroke":"independent"}},
 "layer":[
  {"data":{"name":"mass"},"transform":[{"filter":"datum.series !== 'model'"}],
   "mark":{"type":"point","filled":false,"strokeWidth":1.3,"opacity":1,"size":160},
   "encoding":{
    "x":{"field":"time","type":"quantitative","scale":{"domain":[0,85],"nice":false},
      "axis":{"title":"Residence Time, s","values":[0,5,10,15,20,25,30,35,40,45,50,55,60,65,70,75,80,85],"labelExpr":"datum.value % 10 === 0 ? datum.label : ''","tickSize":6,"labelPadding":9,"titlePadding":10}},
    "y":{"field":"ml","type":"quantitative","scale":{"domain":[0,1.1],"nice":false,"zero":false},
      "axis":{"title":"Mass Loss, 1-m/m₀","format":".1f","values":[0,0.1,0.2,0.3,0.4,0.5,0.6,0.7,0.8,0.9,1.0],"labelExpr":"round(datum.value*10) % 2 === 0 ? datum.label : ''","tickSize":6,"labelPadding":3,"titlePadding":31}},
    "shape":{"field":"series","type":"nominal","scale":{"domain":["run1","run2","run3","run4"],"range":["circle","M0,-1L0.235,-0.324L0.951,-0.309L0.38,0.124L0.588,0.809L0,0.4L-0.588,0.809L-0.38,0.124L-0.951,-0.309L-0.235,-0.324Z","triangle-up","M0,-1V1M-0.87,-0.5L0.87,0.5M-0.87,0.5L0.87,-0.5"]},"legend":null},
    "color":{"field":"series","type":"nominal","scale":{"domain":["run1","run2","run3","run4"],"range":["#FF0000","#00FF00","#00FFFF","#FF00FF"]},"legend":null}
   }},
  {"data":{"name":"mass"},"transform":[{"filter":"datum.series === 'model'"}],
   "mark":{"type":"line","color":"#0000FF","strokeWidth":3},
   "encoding":{"x":{"field":"time","type":"quantitative"},"y":{"field":"ml","type":"quantitative"}}},
  {"data":{"name":"mass"},
   "mark":{"type":"point","filled":false,"opacity":0,"size":3025,"strokeWidth":1.3},
   "encoding":{
    "x":{"field":"time","type":"quantitative"},
    "y":{"field":"ml","type":"quantitative"},
    "shape":{"field":"series","type":"nominal","scale":{"domain":["model","run1","run2","run3","run4"],"range":[
      "M-1,0H1M-1,-0.045H1M-1,0.045H1",
      "M-1,0H-0.42M-1,-0.045H-0.42M-1,0.045H-0.42M0.21,0H0.8M0.21,-0.045H0.8M0.21,0.045H0.8M-0.21,0A0.21,0.21 0 1,0 0.21,0A0.21,0.21 0 1,0 -0.21,0Z",
      "M-1,0H-0.94M-1,-0.045H-0.94M-1,0.045H-0.94M-0.41,0H-0.35M-0.41,-0.045H-0.35M-0.41,0.045H-0.35M0.34,0H0.4M0.34,-0.045H0.4M0.34,0.045H0.4M0.87,0H0.93M0.87,-0.045H0.93M0.87,0.045H0.93M0,-0.23L0.056,-0.077L0.219,-0.071L0.09,0.029L0.135,0.186L0,0.095L-0.135,0.186L-0.09,0.029L-0.219,-0.071L-0.056,-0.077Z",
      "M-1,0H-0.3M-1,-0.045H-0.3M-1,0.045H-0.3M0.3,0H0.8M0.3,-0.045H0.8M0.3,0.045H0.8M0,-0.2L0.19,0.13L-0.19,0.13Z",
      "M-1,0H-0.6M-1,-0.045H-0.6M-1,0.045H-0.6M0.34,0H0.83M0.34,-0.045H0.83M0.34,0.045H0.83M0,-0.19V0.19M-0.165,-0.095L0.165,0.095M-0.165,0.095L0.165,-0.095"]},
      "legend":{"title":null,"orient":"none","legendX":371,"legendY":243,"clipHeight":26,"symbolSize":3025,"labelOffset":4,"symbolStrokeWidth":1.3}},
    "stroke":{"field":"series","type":"nominal","scale":{"domain":["model","run1","run2","run3","run4"],"range":["#0000FF","#FF0000","#00FF00","#00FFFF","#FF00FF"]},
      "legend":{"title":null,"orient":"none","legendX":371,"legendY":243,"clipHeight":26,"symbolSize":3025,"labelOffset":4,"symbolStrokeWidth":1.3}}
   }}
 ]
}
]
}
